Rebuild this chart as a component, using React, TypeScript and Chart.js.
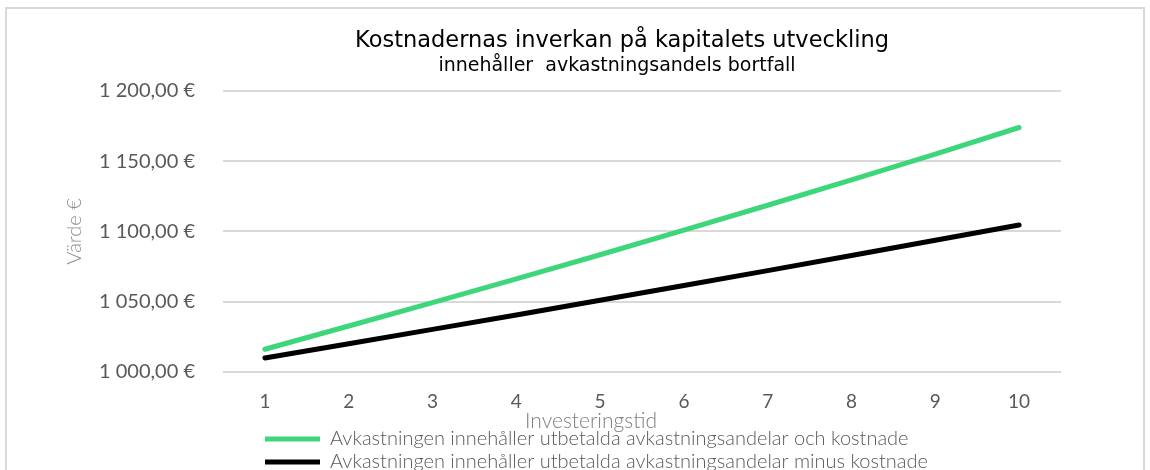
import React, { useEffect, useRef } from "react";
import { Chart, registerables } from "chart.js";

Chart.register(...registerables);

const categories = ["1", "2", "3", "4", "5", "6", "7", "8", "9", "10"];
const greenValues = [1016.2, 1032.7, 1049.3, 1066.2, 1083.4, 1100.9, 1118.6, 1136.6, 1155.0, 1173.9];
const blackValues = [1010.0, 1020.1, 1030.3, 1040.6, 1051.0, 1061.5, 1072.1, 1082.9, 1093.7, 1104.6];
const seriesNames = [
  "Avkastningen innehåller utbetalda avkastningsandelar och kostnade",
  "Avkastningen innehåller utbetalda avkastningsandelar minus kostnade",
];
const titleText = "Kostnadernas inverkan på kapitalets utveckling";
const subtitleText = "innehåller  avkastningsandels bortfall";
const yTitle = "Värde €";
const xTitle = "Investeringstid";

const fmt = (v: number) => {
  const s = v.toFixed(2).replace(".", ",");
  const [i, d] = s.split(",");
  return i.replace(/\B(?=(\d{3})+(?!\d))/g, " ") + "," + d + " €";
};

const BODY = "Lato, 'Open Sans', sans-serif";
const HEAD = "'DejaVu Sans', Verdana, sans-serif";

// horizontal nudges for boxes Chart.js can only center
const TITLE_DX = 88;
const SUBTITLE_DX = 83;
const LEGEND_DX = 255;
const XTITLE_DX = -51;

const shiftPlugin = {
  id: "shiftBoxes",
  afterLayout(chart: any) {
    const sh = (box: any, dx: number) => {
      if (box) {
        box.left += dx;
        box.right += dx;
      }
    };
    sh(chart.titleBlock, TITLE_DX);
    const sub = chart.boxes.find(
      (b: any) => b !== chart.titleBlock && b.options && b.options.text === subtitleText
    );
    sh(sub, SUBTITLE_DX);
    sh(chart.legend, LEGEND_DX);
    const xs = chart.scales.x;
    if (xs && !xs.__wrapped) {
      const orig = xs.drawTitle.bind(xs);
      xs.drawTitle = function () {
        this.left += XTITLE_DX;
        this.right += XTITLE_DX;
        orig();
        this.left -= XTITLE_DX;
        this.right -= XTITLE_DX;
      };
      xs.__wrapped = true;
    }
  },
};

export default function App() {
  const ref = useRef<HTMLCanvasElement | null>(null);
  useEffect(() => {
    if (!ref.current) return;
    const chart = new Chart(ref.current, {
      type: "line",
      data: {
        labels: categories,
        datasets: [
          {
            label: seriesNames[0],
            data: greenValues,
            borderColor: "#3dd67a",
            backgroundColor: "#3dd67a",
            borderWidth: 5,
            pointRadius: 0,
            pointStyle: "line",
            borderCapStyle: "round",
            tension: 0,
          },
          {
            label: seriesNames[1],
            data: blackValues,
            borderColor: "#000000",
            backgroundColor: "#000000",
            borderWidth: 5,
            pointRadius: 0,
            pointStyle: "line",
            borderCapStyle: "round",
            tension: 0,
          },
        ],
      },
      plugins: [shiftPlugin],
      options: {
        responsive: false,
        animation: false,
        layout: { padding: { left: 0, right: 82, top: 0, bottom: 0 } },
        plugins: {
          title: {
            display: true,
            text: titleText,
            color: "#000000",
            font: { family: HEAD, size: 22.5, weight: "normal", lineHeight: 1.2 },
            padding: { top: 19, bottom: 0 },
          },
          subtitle: {
            display: true,
            text: subtitleText,
            color: "#000000",
            font: { family: HEAD, size: 19, weight: "normal", lineHeight: 1.2 },
            padding: { top: 0, bottom: 13 },
          },
          legend: {
            position: "bottom",
            align: "start",
            labels: {
              usePointStyle: true,
              pointStyle: "line",
              pointStyleWidth: 55,
              color: "#595959",
              font: { family: BODY, size: 20, weight: 300 },
              padding: 3,
            },
          },
          tooltip: { enabled: false },
        },
        scales: {
          x: {
            offset: true,
            grid: { display: false },
            border: { display: false },
            ticks: {
              color: "#595959",
              font: { family: BODY, size: 19, lineHeight: 1.0 },
              padding: 12,
              maxRotation: 0,
            },
            title: {
              display: true,
              text: xTitle,
              color: "#7f7f7f",
              font: { family: BODY, size: 21, weight: 300, lineHeight: 1.0 },
              padding: { top: -12.5, bottom: -5.5 },
            },
          },
          y: {
            min: 1000,
            max: 1200,
            afterFit: (scale: any) => {
              scale.width = 216;
            },
            grid: { color: "#d9d9d9", lineWidth: 2, drawTicks: false },
            border: { display: false },
            ticks: {
              stepSize: 50,
              color: "#595959",
              font: { family: BODY, size: 20 },
              padding: 28,
              callback: (v: any) => fmt(Number(v)),
            },
            title: {
              display: true,
              text: yTitle,
              color: "#8c8c8c",
              font: { family: BODY, size: 20, weight: 300 },
              padding: { top: 56, bottom: 0 },
            },
          },
        },
      },
    });
    return () => chart.destroy();
  }, []);
  return (
    <div
      style={{
        position: "absolute",
        left: 5,
        top: 7,
        width: 1140,
        height: 500,
        border: "2px solid #d9d9d9",
        boxSizing: "border-box",
        background: "#ffffff",
      }}
    >
      <canvas ref={ref} width={1136} height={473} style={{ display: "block" }} />
    </div>
  );
}
